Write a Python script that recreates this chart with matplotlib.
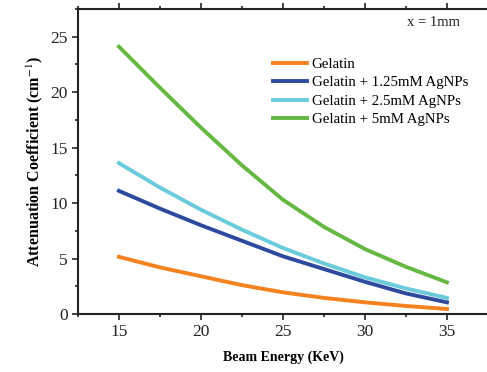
import numpy as np
import matplotlib.pyplot as plt
from matplotlib.ticker import MultipleLocator

plt.rcParams['font.family'] = ['Liberation Serif', 'DejaVu Serif']
plt.rcParams['mathtext.fontset'] = 'stix'

# beam energy (keV)
energy = [15, 17.5, 20, 22.5, 25, 27.5, 30, 32.5, 35]

# attenuation coefficient (cm^-1)
gelatin = [5.15, 4.2, 3.4, 2.6, 1.95, 1.45, 1.05, 0.72, 0.45]
ag_125 = [11.1, 9.5, 8.0, 6.6, 5.2, 4.05, 2.9, 1.85, 1.05]
ag_25 = [13.6, 11.4, 9.4, 7.6, 5.95, 4.55, 3.3, 2.3, 1.45]
ag_5 = [24.1, 20.4, 16.8, 13.4, 10.3, 7.85, 5.85, 4.25, 2.85]

labels = ['Gelatin', 'Gelatin + 1.25mM AgNPs',
          'Gelatin + 2.5mM AgNPs', 'Gelatin + 5mM AgNPs']
colors = ['#F5821F', '#2E4A9E', '#6ACBDC', '#66B843']

fig = plt.figure(figsize=(4.87, 3.72), dpi=100)
ax = fig.add_axes([0.160, 0.156, 0.842, 0.820])

for y, lab, c in zip([gelatin, ag_125, ag_25, ag_5], labels, colors):
    ax.plot(energy, y, color=c, lw=2.8, label=lab)

ax.set_xlim(12.5, 37.5)
ax.set_ylim(0, 27.5)
ax.xaxis.set_major_locator(MultipleLocator(5))
ax.xaxis.set_minor_locator(MultipleLocator(2.5))
ax.yaxis.set_major_locator(MultipleLocator(5))
ax.yaxis.set_minor_locator(MultipleLocator(2.5))
ax.tick_params(which='both', direction='out', labelsize=12.5, width=1.2,
               colors='#222222')
ax.tick_params(which='major', length=4)
ax.tick_params(which='minor', length=2.5)
ax.tick_params(axis='x', which='both', top=True, labeltop=False)
for s in ['left', 'bottom', 'top']:
    ax.spines[s].set_linewidth(1.5)
    ax.spines[s].set_color('#222222')
ax.spines['right'].set_visible(False)

ax.set_xlabel('Beam Energy (KeV)', fontsize=10, fontweight='bold', labelpad=7)
ax.set_ylabel('Attenuation Coefficient (cm$^{-1}$)', fontsize=11.5,
              fontweight='bold', labelpad=4)

ax.text(0.932, 0.957, 'x = 1mm', transform=ax.transAxes, fontsize=10.5,
        ha='right', va='center', color='#222222')

ax.legend(loc='upper left', bbox_to_anchor=(0.476, 0.84), frameon=False,
          fontsize=10.7, handlelength=2.3, handletextpad=0.3, labelspacing=0.33,
          borderaxespad=0, borderpad=0)

fig.savefig('out.png', dpi=100)
